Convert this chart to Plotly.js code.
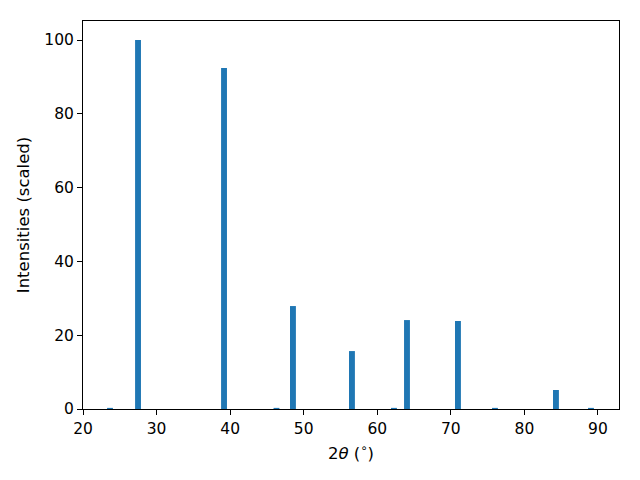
<!DOCTYPE html>
<html>
<head>
<meta charset="utf-8">
<script src="https://cdn.plot.ly/plotly-3.0.1.min.js"></script>
<style>html,body{margin:0;padding:0;background:#fff;}#chart{width:640px;height:480px;}</style>
</head>
<body>
<div id="chart"></div>
<script>
const twoTheta = [23.67, 27.48, 39.17, 46.3, 48.54, 56.56, 62.27, 64.04, 70.97, 76.0, 84.29, 89.05];
const intensity = [0.3, 100, 92.4, 0.3, 27.9, 15.7, 0.3, 24.1, 23.85, 0.3, 5.15, 0.3];
const xTicks = [20, 30, 40, 50, 60, 70, 80, 90];
const yTicks = [0, 20, 40, 60, 80, 100];

const tickFont = {family: 'DejaVu Sans', size: 15.5, color: '#000'};
const titleFont = {family: 'DejaVu Sans', size: 16.5, color: '#000'};
Plotly.newPlot('chart', [{
  type: 'bar',
  x: twoTheta,
  y: intensity,
  width: 0.8,
  marker: {color: '#1f77b4', line: {width: 0}}
}], {
  width: 640, height: 480,
  margin: {l: 83, r: 21, t: 21, b: 71},
  paper_bgcolor: '#fff', plot_bgcolor: '#fff',
  font: tickFont,
  showlegend: false,
  xaxis: {
    range: [20, 92.86],
    tickvals: xTicks, ticktext: xTicks.map(String),
    ticks: 'outside', ticklen: 5, tickwidth: 1, tickcolor: '#000',
    showline: true, mirror: true, linecolor: '#000', linewidth: 1,
    showgrid: false, zeroline: false,
    tickfont: tickFont,
    title: {text: '2<i>θ</i> (<sup>∘</sup>)', font: titleFont, standoff: 10}
  },
  yaxis: {
    range: [0, 105.15],
    tickvals: yTicks, ticktext: yTicks.map(String),
    ticks: 'outside', ticklen: 5, tickwidth: 1, tickcolor: '#000',
    showline: true, mirror: true, linecolor: '#000', linewidth: 1,
    showgrid: false, zeroline: false,
    tickfont: tickFont,
    title: {text: 'Intensities (scaled)', font: titleFont, standoff: 10}
  }
}, {displayModeBar: false, staticPlot: true});
</script>
</body>
</html>
